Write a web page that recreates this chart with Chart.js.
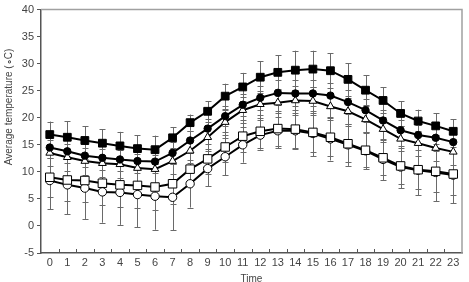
<!DOCTYPE html>
<html>
<head>
<meta charset="utf-8">
<script src="https://cdn.jsdelivr.net/npm/chart.js@4/dist/chart.umd.min.js"></script>
<style>
html,body{margin:0;padding:0;background:#fff;}
#wrap{width:469px;height:282px;position:relative;}
</style>
</head>
<body>
<div id="wrap"><canvas id="c" width="469" height="282"></canvas></div>
<script>
const hours = ['0','1','2','3','4','5','6','7','8','9','10','11','12','13','14','15','16','17','18','19','20','21','22','23'];
const yTicks = [-5,0,5,10,15,20,25,30,35,40];

// filled squares
const s1 = [16.9,16.4,15.8,15.3,14.8,14.3,14.1,16.3,19.1,21.2,24.0,25.7,27.5,28.4,28.8,29.0,28.7,27.1,25.1,23.2,20.8,19.4,18.5,17.5];
const e1 = [2.4,3.0,2.6,2.6,2.6,2.5,2.6,2.0,1.5,1.9,2.3,2.6,3.0,3.2,3.6,3.4,3.2,3.0,2.8,2.4,2.3,2.1,2.3,2.2];
// filled circles
const s2 = [14.5,13.8,13.0,12.6,12.3,12.0,11.9,13.5,15.8,18.0,20.3,22.4,23.7,24.6,24.5,24.5,24.1,22.9,21.4,19.5,17.7,16.8,16.3,15.5];
const e2 = [2.0,2.1,2.1,2.2,2.2,2.2,2.2,2.0,1.8,1.8,1.9,2.0,2.2,2.3,2.4,2.4,2.3,2.2,2.1,2.0,1.9,1.9,2.0,2.0];
// open triangles
const s3 = [13.5,12.7,12.0,11.6,11.4,10.7,10.5,12.0,13.9,16.4,19.2,21.4,22.5,22.8,23.2,23.1,22.1,21.2,19.7,17.9,16.1,15.3,14.4,13.7];
const e3 = [2.4,2.5,2.5,2.6,2.6,2.6,2.6,2.4,2.2,2.2,2.3,2.4,2.5,2.6,2.6,2.6,2.5,2.4,2.4,2.3,2.3,2.3,2.4,2.4];
// open squares
const s4 = [9.0,8.5,8.4,7.9,7.6,7.5,7.2,7.8,10.5,12.4,14.6,16.6,17.5,18.0,17.9,17.3,16.4,15.2,14.0,12.6,11.1,10.4,10.1,9.6];
const e4 = [3.6,3.8,3.9,4.0,4.1,4.1,4.2,3.8,3.0,2.8,2.8,2.9,3.1,3.3,3.5,3.6,3.5,3.3,3.1,3.2,3.4,3.6,3.8,3.9];
// open circles
const s5 = [8.4,7.6,7.0,6.3,6.2,5.8,5.5,5.3,7.8,10.6,12.8,15.0,16.8,17.6,17.6,17.1,16.1,15.0,13.9,12.3,10.9,10.3,9.9,9.4];
const e5 = [5.3,5.4,5.7,5.7,6.0,6.0,6.2,6.1,4.4,3.3,3.4,3.3,2.7,3.2,3.3,4.2,4.0,3.9,3.4,3.8,3.9,4.6,5.3,5.2];

const yTitle = 'Average temperature (\u2218C)';
const xTitle = 'Time';

const errs = [e1,e2,e3,e4,e5];

const errorBars = {
  id: 'errorBars',
  beforeDatasetsDraw(chart) {
    const ctx = chart.ctx;
    const ys = chart.scales.y;
    ctx.save();
    ctx.strokeStyle = '#6a6a6a';
    ctx.lineWidth = 1;
    chart.data.datasets.forEach((ds, di) => {
      const meta = chart.getDatasetMeta(di);
      meta.data.forEach((pt, i) => {
        const v = ds.data[i], e = errs[di][i];
        const x = Math.round(pt.x) + 0.5;
        const yt = ys.getPixelForValue(v + e);
        const yb = ys.getPixelForValue(v - e);
        ctx.beginPath();
        ctx.moveTo(x, yt); ctx.lineTo(x, yb);
        ctx.moveTo(x - 3, Math.round(yt) + 0.5); ctx.lineTo(x + 3, Math.round(yt) + 0.5);
        ctx.moveTo(x - 3, Math.round(yb) + 0.5); ctx.lineTo(x + 3, Math.round(yb) + 0.5);
        ctx.stroke();
      });
    });
    ctx.restore();
  }
};

const frame = {
  id: 'frame',
  afterDraw(chart) {
    const ctx = chart.ctx;
    const a = chart.chartArea;
    const xs = chart.scales.x;
    ctx.save();
    ctx.strokeStyle = '#a0a0a0';
    ctx.lineWidth = 1.5;
    ctx.beginPath();
    ctx.moveTo(a.left, a.top); ctx.lineTo(a.right, a.top); ctx.lineTo(a.right, a.bottom);
    ctx.stroke();
    ctx.strokeStyle = '#555';
    ctx.lineWidth = 1;
    ctx.beginPath();
    for (let i = 1; i < hours.length; i++) {
      const x = Math.round((xs.getPixelForValue(i - 1) + xs.getPixelForValue(i)) / 2) + 0.5;
      ctx.moveTo(x, a.bottom); ctx.lineTo(x, a.bottom - 4);
    }
    ctx.stroke();
    ctx.fillStyle = '#444';
    ctx.font = '10px "Liberation Sans", Arial, sans-serif';
    ctx.textAlign = 'center';
    ctx.textBaseline = 'middle';
    ctx.translate(9, 107);
    ctx.rotate(-Math.PI / 2);
    ctx.fillText(yTitle, 0, 0);
    ctx.restore();
  }
};

function ds(label, data, style, fill, radius) {
  return {
    label, data,
    borderColor: '#000', borderWidth: 2,
    pointStyle: style, pointRadius: radius, pointHoverRadius: radius,
    pointBackgroundColor: fill, pointBorderColor: '#000', pointBorderWidth: 1,
    tension: 0, fill: false
  };
}

const FONT = '"Liberation Sans", Arial, sans-serif';

new Chart(document.getElementById('c'), {
  type: 'line',
  data: {
    labels: hours,
    datasets: [
      ds('S1', s1, 'rect', '#000', 5.5),
      ds('S2', s2, 'circle', '#000', 3.7),
      ds('S3', s3, 'triangle', '#fff', 4.5),
      ds('S4', s4, 'rect', '#fff', 6),
      ds('S5', s5, 'circle', '#fff', 4.2)
    ]
  },
  options: {
    responsive: false,
    animation: false,
    events: [],
    layout: { padding: { top: 4, right: 2, left: 0, bottom: 0 } },
    plugins: { legend: { display: false }, tooltip: { enabled: false } },
    scales: {
      x: {
        type: 'category', offset: true,
        grid: { display: true, drawOnChartArea: false, drawTicks: false, tickLength: 0, offset: true, color: 'rgba(0,0,0,0)' },
        border: { display: true, color: '#555', width: 1.5 },
        ticks: { color: '#444', font: { family: FONT, size: 11 }, padding: 3, maxRotation: 0, autoSkip: false },
        title: { display: true, text: xTitle, color: '#444', font: { family: FONT, size: 10 }, padding: { top: 4, bottom: -3 } },
        afterFit(s) { s.height = 29; }
      },
      y: {
        min: -5, max: 40,
        afterBuildTicks(s) { s.ticks = yTicks.map(v => ({ value: v })); },
        grid: { drawOnChartArea: false, drawTicks: true, tickLength: 4, color: '#555' },
        border: { display: true, color: '#555', width: 1.5 },
        ticks: { color: '#444', font: { family: FONT, size: 11 }, padding: 3 },
        afterFit(s) { s.width = 41; }
      }
    }
  },
  plugins: [errorBars, frame]
});
</script>
</body>
</html>
